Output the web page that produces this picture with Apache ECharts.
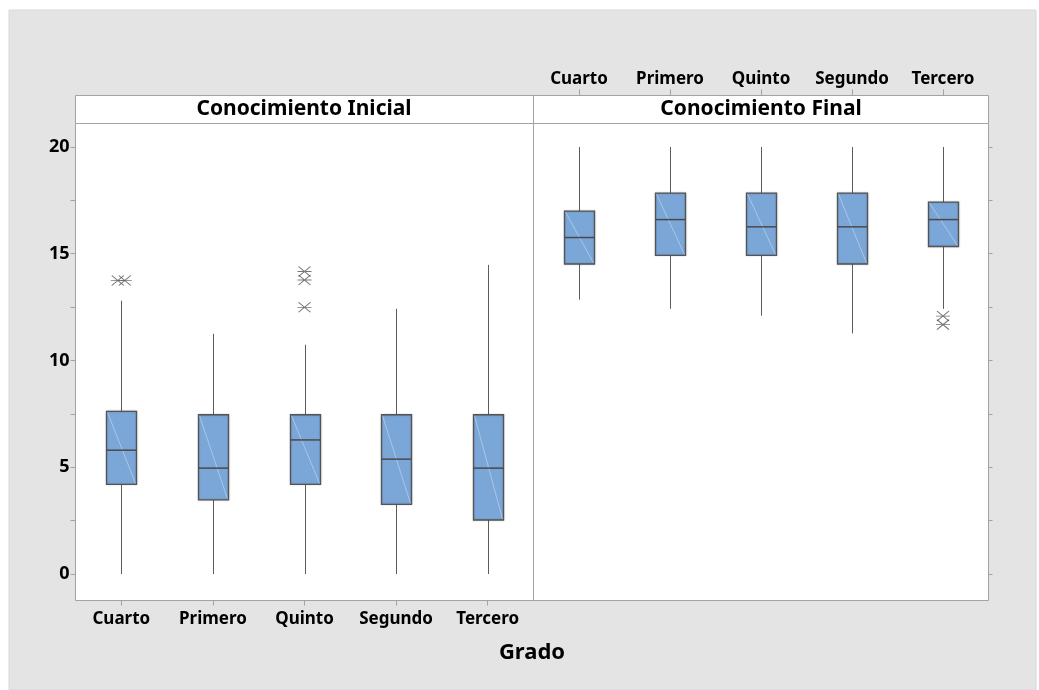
<!DOCTYPE html>
<html>
<head>
<meta charset="utf-8">
<script src="https://cdn.jsdelivr.net/npm/echarts@6/dist/echarts.min.js"></script>
<style>
  html, body { margin: 0; padding: 0; background: #ffffff; }
  #chart { width: 1039px; height: 690px; }
</style>
</head>
<body>
<div id="chart"></div>
<script>
// Grade levels (x categories) shared by both panels
const grados = ['Cuarto', 'Primero', 'Quinto', 'Segundo', 'Tercero'];
const panelTitles = ['Conocimiento Inicial', 'Conocimiento Final'];
const axisTitle = 'Grado';

// Y axis: labelled values and tick marks
const yLabelValues = [0, 5, 10, 15, 20];
const yTickValues = [0, 2.5, 5, 7.5, 10, 12.5, 15, 17.5, 20];

// Box statistics per grade: [lower whisker, Q1, median, Q3, upper whisker]
const inicialBoxes = [
  [0, 4.20, 5.80, 7.62, 12.80],
  [0, 3.47, 4.96, 7.46, 11.25],
  [0, 4.20, 6.28, 7.46, 10.74],
  [0, 3.26, 5.38, 7.46, 12.42],
  [0, 2.53, 4.96, 7.46, 14.48]
];
const finalBoxes = [
  [12.85, 14.52, 15.76, 17.00, 20],
  [12.42, 14.92, 16.60, 17.84, 20],
  [12.10, 14.92, 16.26, 17.84, 20],
  [11.27, 14.52, 16.26, 17.84, 20],
  [12.42, 15.34, 16.60, 17.42, 20]
];

// Outliers: [grade index, value]
const inicialOutliers = [[0, 13.75], [0, 13.75], [2, 14.17], [2, 13.77], [2, 12.49]];
const finalOutliers = [[4, 12.08], [4, 11.68]];

const BOX_FILL = '#7ba6d8';
const BOX_EDGE = '#545454';
const FRAME = '#a3a3a3';
const FONT = 'Noto Sans';

function boxData(boxes) {
  return boxes.map((b, i) => [i].concat(b));
}

// Tied outliers are spread sideways so each one stays visible
function outlierData(points) {
  const seen = {};
  const counts = {};
  points.forEach(p => { const k = p[0] + '|' + p[1]; counts[k] = (counts[k] || 0) + 1; });
  return points.map(p => {
    const k = p[0] + '|' + p[1];
    const n = counts[k];
    const idx = seen[k] = (seen[k] === undefined ? 0 : seen[k] + 1);
    const dx = n > 1 ? (idx - (n - 1) / 2) * 7 : 0;
    return { value: p, symbolOffset: [dx, 0] };
  });
}

function renderBox(params, api) {
  const x = api.value(0);
  const pMin = api.coord([x, api.value(1)]);
  const pQ1 = api.coord([x, api.value(2)]);
  const pMed = api.coord([x, api.value(3)]);
  const pQ3 = api.coord([x, api.value(4)]);
  const pMax = api.coord([x, api.value(5)]);
  const hw = 15;
  const cx = Math.round(pMed[0]) + 0.5;
  return {
    type: 'group',
    children: [
      { type: 'line', shape: { x1: cx, y1: pMax[1], x2: cx, y2: pQ3[1] },
        style: { stroke: '#5c5c5c', lineWidth: 1 } },
      { type: 'line', shape: { x1: cx, y1: pQ1[1], x2: cx, y2: pMin[1] },
        style: { stroke: '#5c5c5c', lineWidth: 1 } },
      { type: 'rect', shape: { x: cx - hw, y: pQ3[1], width: hw * 2, height: pQ1[1] - pQ3[1] },
        style: { fill: BOX_FILL, stroke: BOX_EDGE, lineWidth: 1.3,
                 shadowBlur: 2, shadowColor: 'rgba(0,0,0,0.18)' } },
      { type: 'line', shape: { x1: cx - hw + 1, y1: pQ3[1] + 1, x2: cx + hw - 1, y2: pQ1[1] - 1 },
        style: { stroke: 'rgba(255,255,255,0.45)', lineWidth: 0.8 } },
      { type: 'line', shape: { x1: cx - hw, y1: pMed[1], x2: cx + hw, y2: pMed[1] },
        style: { stroke: '#4a4a4a', lineWidth: 1.5 } }
    ]
  };
}

const asterisk = 'path://M0,5L14,5M1,0L13,10M13,0L1,10';

const yCommon = {
  type: 'value',
  min: -1.24,
  max: 21.1,
  splitLine: { show: false },
  axisLine: { show: false }
};

const chart = echarts.init(document.getElementById('chart'), null, { renderer: 'canvas' });

chart.setOption({
  backgroundColor: '#ffffff',
  animation: false,
  graphic: [
    { type: 'rect', z: -10, shape: { x: 9, y: 10, width: 1027, height: 680 },
      style: { fill: '#e4e4e4', stroke: '#d8d8d8', lineWidth: 1 } },
    { type: 'rect', shape: { x: 75.5, y: 95.5, width: 458, height: 28 },
      style: { fill: '#ffffff', stroke: FRAME, lineWidth: 1 } },
    { type: 'rect', shape: { x: 533.5, y: 95.5, width: 455, height: 28 },
      style: { fill: '#ffffff', stroke: FRAME, lineWidth: 1 } },
    { type: 'text', x: 304, y: 109.5,
      style: { text: panelTitles[0], font: 'bold 21px "' + FONT + '"', fill: '#000',
               align: 'center', verticalAlign: 'middle' } },
    { type: 'text', x: 761, y: 109.5,
      style: { text: panelTitles[1], font: 'bold 21px "' + FONT + '"', fill: '#000',
               align: 'center', verticalAlign: 'middle' } },
    { type: 'text', x: 532, y: 653,
      style: { text: axisTitle, font: 'bold 22px "' + FONT + '"', fill: '#000',
               align: 'center', verticalAlign: 'middle' } }
  ],
  grid: [
    { left: 75.5, top: 123.5, width: 458, height: 477, show: true,
      backgroundColor: '#ffffff', borderColor: FRAME, borderWidth: 1 },
    { left: 533.5, top: 123.5, width: 455, height: 477, show: true,
      backgroundColor: '#ffffff', borderColor: FRAME, borderWidth: 1 }
  ],
  xAxis: [
    { type: 'category', gridIndex: 0, data: grados, position: 'bottom', boundaryGap: true,
      axisLine: { show: false, onZero: false },
      axisTick: { show: true, alignWithLabel: true, interval: 0, length: 5, lineStyle: { color: FRAME } },
      axisLabel: { interval: 0, margin: 10, color: '#000', fontFamily: FONT, fontWeight: 'bold', fontSize: 17 },
      splitLine: { show: false } },
    { type: 'category', gridIndex: 1, data: grados, position: 'top', offset: 28, boundaryGap: true,
      axisLine: { show: false, onZero: false },
      axisTick: { show: true, alignWithLabel: true, interval: 0, length: 6, lineStyle: { color: FRAME } },
      axisLabel: { interval: 0, margin: 8, color: '#000', fontFamily: FONT, fontWeight: 'bold', fontSize: 17 },
      splitLine: { show: false } }
  ],
  yAxis: [
    Object.assign({}, yCommon, {
      gridIndex: 0, position: 'left',
      axisTick: { show: true, length: 5, customValues: yTickValues, lineStyle: { color: FRAME } },
      axisLabel: { show: true, margin: 6, customValues: yLabelValues, color: '#000',
                   fontFamily: FONT, fontWeight: 'bold', fontSize: 18 }
    }),
    Object.assign({}, yCommon, {
      gridIndex: 1, position: 'right',
      axisTick: { show: true, length: 4, customValues: yTickValues, lineStyle: { color: FRAME } },
      axisLabel: { show: false }
    })
  ],
  series: [
    { type: 'custom', name: panelTitles[0], xAxisIndex: 0, yAxisIndex: 0,
      renderItem: renderBox, encode: { x: 0, y: [1, 2, 3, 4, 5] },
      data: boxData(inicialBoxes) },
    { type: 'custom', name: panelTitles[1], xAxisIndex: 1, yAxisIndex: 1,
      renderItem: renderBox, encode: { x: 0, y: [1, 2, 3, 4, 5] },
      data: boxData(finalBoxes) },
    { type: 'scatter', xAxisIndex: 0, yAxisIndex: 0, symbol: asterisk, symbolSize: [14, 10],
      itemStyle: { color: 'rgba(0,0,0,0)', borderColor: '#555', borderWidth: 1 },
      data: outlierData(inicialOutliers) },
    { type: 'scatter', xAxisIndex: 1, yAxisIndex: 1, symbol: asterisk, symbolSize: [14, 10],
      itemStyle: { color: 'rgba(0,0,0,0)', borderColor: '#555', borderWidth: 1 },
      data: outlierData(finalOutliers) }
  ]
});
</script>
</body>
</html>
